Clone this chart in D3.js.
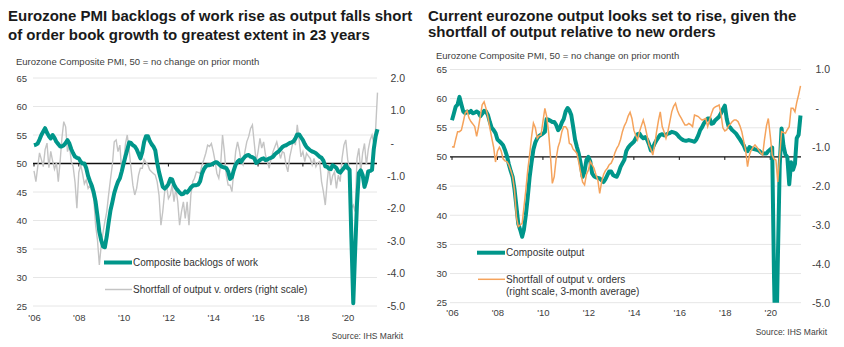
<!DOCTYPE html>
<html>
<head>
<meta charset="utf-8">
<script src="https://cdn.jsdelivr.net/npm/d3@7"></script>
<style>
body { margin: 0; background: #fff; }
svg text { font-family: "Liberation Sans", Arial, sans-serif; }
</style>
</head>
<body>
<div id="chart"></div>
<script>
// monthly series, Jan 2006 - May 2021
// left panel: composite backlogs of work (left scale)
var backlogs = [
    53.2, 53.3, 53.5, 54.2, 55.0, 55.6, 56.2, 55.4, 54.8, 54.4, 55.0, 54.5,
    53.8, 53.4, 53.0, 53.0, 53.2, 53.6, 54.1, 53.5, 52.5, 51.8, 51.2, 51.0,
    50.9, 50.3, 50.0, 50.0, 49.2, 47.8, 46.9, 46.1, 44.9, 43.3, 40.8, 38.0,
    36.5, 35.4, 35.3, 37.2, 39.6, 41.8, 43.2, 44.8, 45.9, 46.8, 47.4, 48.6,
    50.0, 51.3, 52.4, 53.7, 53.6, 53.2, 53.0, 52.5, 51.7, 50.9, 52.0, 53.8,
    54.8, 54.8, 54.0, 53.4, 53.0, 52.3, 50.2, 48.5, 47.2, 45.9, 45.6, 45.9,
    46.4, 47.3, 47.2, 46.3, 45.7, 45.3, 44.9, 44.6, 44.7, 45.1, 44.9, 45.3,
    45.8, 46.1, 46.2, 46.2, 46.3, 46.9, 48.2, 49.0, 49.5, 49.7, 49.7, 49.8,
    50.0, 50.2, 50.2, 49.9, 49.6, 49.4, 49.3, 49.2, 48.6, 47.3, 47.6, 48.8,
    49.8, 50.3, 50.6, 50.3, 50.8, 51.2, 51.4, 51.5, 51.2, 51.1, 50.9, 50.1,
    50.3, 50.6, 50.8, 50.9, 50.6, 50.7, 50.9, 51.0, 51.2, 51.6, 51.9, 52.1,
    52.5, 52.9, 53.1, 53.2, 53.4, 53.6, 53.7, 53.9, 54.4, 55.1, 55.1, 54.6,
    54.1, 53.4, 52.9, 52.6, 52.3, 52.1, 52.0, 51.8, 51.5, 51.2, 51.0, 50.5,
    49.5, 49.4, 49.1, 49.0, 49.7, 49.5, 49.2, 48.6, 48.4, 48.8, 49.2, 49.7,
    49.2, 48.9, 37.0, 25.5, 34.5, 43.0, 48.3, 48.8, 48.0, 45.9, 47.0, 48.6,
    48.7, 48.9, 52.5, 54.8, 56.0
];

// left panel: shortfall of output v. orders, monthly (right scale)
var shortfall = [
    -0.85, -1.18, -0.75, -0.3, -0.5, -0.72, -0.2, 0.0, -0.75, -0.25, -0.55, -0.8,
    -0.6, -1.18, -0.6, 0.15, 0.66, 0.5, -0.26, -0.06, -0.57, -0.72, -1.2, -2.0,
    -0.9, -0.67, -0.93, -1.25, -1.13, -1.39, -1.3, -1.49, -1.7, -2.52, -2.98, -3.74,
    -3.13, -2.72, -2.41, -2.1, -1.59, -1.1, -0.67, 0.04, 0.1, -0.26, -0.06, -0.88,
    -0.57, -0.01, 0.25, -0.21, -0.77, -1.29, -1.59, -1.39, -0.98, -0.77, -0.77, -0.5,
    -0.6, -0.67, -0.82, -0.88, -0.93, -0.98, -1.18, -1.6, -2.52, -2.1, -1.49, -1.29,
    -1.7, -1.59, -1.29, -1.8, -1.39, -1.8, -2.52, -2.1, -1.8, -2.31, -1.8, -2.52,
    -1.59, -1.18, -1.08, -0.88, -0.9, -0.93, -0.67, -0.5, -0.31, -0.06, -0.1, -0.01,
    -0.26, -0.57, -0.93, -1.08, -0.67, 0.25, -0.26, -0.98, -1.29, -1.29, -1.49, -0.88,
    -0.26, 0.04, -0.21, -0.57, -0.67, -0.26, 0.04, 0.2, 0.45, 0.56, -0.01, -0.57,
    -0.26, 0.15, -0.15, 0.04, -0.36, -0.57, -0.77, -0.47, -0.26, -0.11, 0.04, -0.21,
    -0.47, -0.26, -0.3, -0.67, -0.88, -0.42, -0.16, 0.1, -0.06, 0.56, 0.1, -0.42,
    -0.26, -0.57, -0.31, -0.4, -0.47, -0.67, -0.47, -0.72, -0.6, -0.57, -1.18, -1.49,
    -1.9, -1.18, -0.67, -1.29, -1.0, -0.88, -1.39, -0.98, -1.18, -0.47, -0.06, 0.1,
    -0.5, -0.82, -2.0, -1.9, -2.1, -0.47, -0.16, -0.88, -0.3, -0.01, -0.67, -0.2,
    0.1, 0.25, 0.0, 0.45, 1.55
];

// right panel: composite output (left scale)
var output = [
    56.3, 57.5, 58.6, 59.0, 60.3, 59.0, 57.8, 57.5, 57.8, 57.6, 57.9, 57.5,
    57.6, 57.8, 57.6, 57.0, 57.4, 57.9, 57.8, 57.2, 56.0, 55.0, 54.6, 54.1,
    53.0, 52.7, 52.4, 52.0, 51.2, 50.2, 48.8, 47.6, 46.6, 44.5, 41.5, 38.5,
    37.5, 36.3, 37.5, 40.0, 43.0, 46.5, 49.0, 51.3, 52.5, 53.2, 53.6, 53.8,
    54.0, 54.3, 56.5, 56.4, 56.2, 56.0, 56.0, 55.5, 54.6, 55.0, 55.9, 56.5,
    57.8, 58.4, 58.0, 57.2, 55.2, 53.0, 51.7, 50.5, 48.8, 46.6, 47.5, 49.5,
    50.0, 49.2, 47.2, 46.7, 46.5, 46.4, 46.3, 46.0, 45.7, 46.2, 46.9, 47.5,
    47.5, 46.9, 46.7, 46.6, 47.3, 48.3, 48.9, 49.5, 51.0, 51.6, 52.0, 52.3,
    52.6, 53.2, 53.9, 54.0, 53.5, 53.2, 53.4, 53.0, 52.2, 51.1, 51.6, 52.3,
    52.9, 53.4, 53.8, 53.9, 53.7, 53.8, 54.0, 54.1, 54.3, 54.2, 54.1, 53.8,
    53.4, 53.1, 52.9, 52.8, 52.8, 52.9, 52.8, 52.7, 52.6, 53.0, 53.7, 54.6,
    55.1, 55.8, 56.2, 56.6, 56.6, 55.7, 55.8, 56.3, 56.6, 56.9, 57.5, 58.2,
    58.8, 56.5, 55.3, 55.0, 54.6, 54.3, 54.0, 53.5, 53.0, 52.5, 52.0, 51.2,
    51.0, 51.7, 51.5, 51.4, 51.3, 51.2, 51.1, 50.8, 50.6, 50.6, 50.6, 51.0,
    51.3, 51.6, 29.7, 13.6, 31.9, 48.5, 54.9, 51.9, 50.4, 50.0, 45.3, 49.1,
    47.8, 48.8, 53.2, 53.8, 57.1
];

// right panel: shortfall of output v. orders, 3-month average (right scale)
var shortfall3m = [
    -0.99, -1.0, -0.8, -0.6, -0.6, -0.56, -0.35, -0.12, -0.06, -0.25, -0.34, -0.4,
    -0.47, -0.72, -0.5, -0.2, 0.09, 0.17, 0.0, -0.22, -0.5, -0.75, -1.0, -1.38,
    -1.1, -1.0, -1.1, -1.3, -1.35, -1.37, -1.45, -1.59, -1.75, -2.1, -2.8, -3.04,
    -3.0, -2.96, -2.55, -2.1, -1.6, -1.2, -0.75, -0.38, -0.5, -0.77, -0.7, -0.69,
    -0.34, 0.0, -0.2, -0.6, -1.2, -1.93, -1.76, -1.3, -1.0, -0.85, -0.6, -0.47,
    -0.47, -0.55, -0.9, -0.93, -1.05, -1.1, -1.16, -1.4, -1.67, -1.9, -1.97, -1.7,
    -1.59, -1.37, -1.45, -1.54, -1.7, -1.85, -2.19, -1.89, -1.7, -1.6, -1.54, -1.45,
    -1.41, -1.3, -1.15, -1.03, -0.95, -0.8, -0.6, -0.45, -0.35, -0.2, -0.1, -0.26,
    -0.56, -0.7, -0.81, -0.6, -0.45, -0.3, -0.47, -0.7, -0.94, -1.05, -1.2, -0.94,
    -0.6, -0.3, -0.09, -0.47, -0.6, -0.77, -0.6, -0.35, -0.09, 0.05, 0.13, -0.05,
    -0.17, -0.25, -0.34, -0.43, -0.43, -0.39, -0.42, -0.47, -0.17, -0.19, -0.21, -0.26,
    -0.3, -0.28, -0.26, -0.47, -0.3, -0.13, 0.0, 0.04, 0.06, 0.09, -0.15, -0.5,
    -0.58, -0.55, -0.45, -0.4, -0.34, -0.3, -0.3, -0.34, -0.45, -0.6, -0.85, -1.07,
    -1.5, -1.2, -1.08, -1.0, -0.94, -1.0, -1.07, -1.15, -1.2, -0.8, -0.45, -0.26,
    -0.7, -1.2, -1.3, -1.33, -1.89, -1.2, -0.6, -0.62, -0.64, -0.55, -0.47, 0.0,
    0.0, -0.09, 0.15, 0.35, 0.58
];

var months = d3.timeMonth.range(new Date(2006, 0, 1), new Date(2021, 5, 1));
var yearTicks = [2006, 2008, 2010, 2012, 2014, 2016, 2018, 2020];
var leftTicks = [25, 30, 35, 40, 45, 50, 55, 60, 65];
var rightTicksA = [2, 1, 0, -1, -2, -3, -4, -5];
var rightTicksB = [1, 0, -1, -2, -3, -4, -5];
var subtitle = "Eurozone Composite PMI, 50 = no change on prior month";

var teal = "#00968a";

var svg = d3.select("#chart")
    .append("svg")
    .attr("width", 844)
    .attr("height", 347);

function drawPanel(p) {
    var x = d3.scaleTime()
        .domain([months[0], months[months.length - 1]])
        .range([p.x0, p.x1]);
    var yL = d3.scaleLinear().domain([25, 65]).range([p.yB, p.yT]);
    var yR = d3.scaleLinear().domain([-5, p.rMax]).range([p.yB, p.yT]);

    // titles
    p.title.forEach(function (t, i) {
        svg.append("text")
            .attr("x", p.tx)
            .attr("y", p.ty[i])
            .attr("font-size", 15)
            .attr("font-weight", "bold")
            .attr("fill", "#1a1a1a")
            .text(t);
    });
    svg.append("text")
        .attr("x", p.sx)
        .attr("y", p.sy)
        .attr("font-size", 9.5)
        .attr("fill", "#404040")
        .text(subtitle);

    // gridlines
    svg.append("g").selectAll("line")
        .data(leftTicks)
        .enter().append("line")
        .attr("x1", p.gx0)
        .attr("x2", p.gx1)
        .attr("y1", function (d) { return yL(d); })
        .attr("y2", function (d) { return yL(d); })
        .style("stroke", "#e6e6e6")
        .style("stroke-width", 1);

    // left axis
    var axL = svg.append("g")
        .attr("transform", "translate(" + p.lx + ",0)")
        .call(d3.axisLeft(yL).tickValues(leftTicks).tickSize(0).tickPadding(0));
    axL.select(".domain").remove();
    axL.selectAll("text").attr("font-size", 9.5).attr("fill", "#404040");

    // right axis
    var axR = svg.append("g")
        .attr("transform", "translate(" + p.rx + ",0)")
        .call(d3.axisRight(yR).tickValues(p.rTicks).tickSize(0).tickPadding(0)
            .tickFormat(function (v) { return v === 0 ? "-" : v.toFixed(1); }));
    axR.select(".domain").remove();
    axR.selectAll("text")
        .attr("text-anchor", "end")
        .attr("font-size", 10.5)
        .attr("fill", "#404040")
        .attr("x", function (v) { return v === 0 ? -11 : 0; });

    // x axis labels
    var axX = svg.append("g")
        .attr("transform", "translate(0," + p.xy + ")")
        .call(d3.axisBottom(x)
            .tickValues(yearTicks.map(function (y) { return new Date(y, 0, 1); }))
            .tickSize(0).tickPadding(0)
            .tickFormat(d3.timeFormat("'%y")));
    axX.select(".domain").remove();
    axX.selectAll("text").attr("font-size", 9.5).attr("fill", "#404040");

    // 50 line with small ticks
    svg.append("line")
        .attr("x1", p.gx0)
        .attr("x2", p.gx1)
        .attr("y1", yL(50))
        .attr("y2", yL(50))
        .style("stroke", "#111")
        .style("stroke-width", 1.3);
    svg.append("g").selectAll("line")
        .data(yearTicks)
        .enter().append("line")
        .attr("x1", function (d) { return x(new Date(d, 0, 1)); })
        .attr("x2", function (d) { return x(new Date(d, 0, 1)); })
        .attr("y1", yL(50))
        .attr("y2", yL(50) + 3)
        .style("stroke", "#111")
        .style("stroke-width", 1);

    // clip
    svg.append("clipPath")
        .attr("id", p.id + "-clip")
        .append("rect")
        .attr("x", p.gx0 - 5)
        .attr("y", p.yT - 20)
        .attr("width", p.gx1 - p.gx0 + 10)
        .attr("height", p.yB - p.yT + 20);
    var plot = svg.append("g").attr("clip-path", "url(#" + p.id + "-clip)");

    var lineL = d3.line()
        .x(function (d, i) { return x(months[i]); })
        .y(function (d) { return yL(d); });
    var lineR = d3.line()
        .x(function (d, i) { return x(months[i]); })
        .y(function (d) { return yR(d); });

    if (p.rightFirst) {
        plot.append("path").datum(p.rSeries).attr("d", lineR)
            .style("fill", "none").style("stroke", p.rColor).style("stroke-width", p.rWidth);
        plot.append("path").datum(p.lSeries).attr("d", lineL)
            .style("fill", "none").style("stroke", teal).style("stroke-width", 4)
            .style("stroke-linejoin", "round");
    } else {
        plot.append("path").datum(p.lSeries).attr("d", lineL)
            .style("fill", "none").style("stroke", teal).style("stroke-width", 4)
            .style("stroke-linejoin", "round");
        plot.append("path").datum(p.rSeries).attr("d", lineR)
            .style("fill", "none").style("stroke", p.rColor).style("stroke-width", p.rWidth);
    }

    // legend
    svg.append("line")
        .attr("x1", p.lg.x)
        .attr("x2", p.lg.x + 28)
        .attr("y1", p.lg.y1)
        .attr("y2", p.lg.y1)
        .style("stroke", teal)
        .style("stroke-width", 4);
    svg.append("text")
        .attr("x", p.lg.x + 29)
        .attr("y", p.lg.y1 + 3.5)
        .attr("font-size", 10)
        .attr("fill", "#333")
        .text(p.lg.t1);
    svg.append("line")
        .attr("x1", p.lg.x + 1)
        .attr("x2", p.lg.x + 28)
        .attr("y1", p.lg.y2)
        .attr("y2", p.lg.y2)
        .style("stroke", p.rColor)
        .style("stroke-width", 1.5);
    p.lg.t2.forEach(function (t, i) {
        svg.append("text")
            .attr("x", p.lg.x + 29)
            .attr("y", p.lg.y2 + 3.5 + i * 12.5)
            .attr("font-size", 10)
            .attr("fill", "#333")
            .text(t);
    });

    // source
    svg.append("text")
        .attr("x", p.srcX)
        .attr("y", p.srcY)
        .attr("text-anchor", "end")
        .attr("font-size", 8.5)
        .attr("fill", "#404040")
        .text("Source: IHS Markit");
}

drawPanel({
    id: "left",
    title: ["Eurozone PMI backlogs of work rise as output falls short",
            "of order book growth to greatest extent in 23 years"],
    tx: 8, ty: [21, 39.5],
    sx: 16, sy: 65,
    x0: 34, x1: 377.5,
    yT: 78, yB: 306,
    gx0: 33, gx1: 377,
    lx: 27, rx: 405, rMax: 2, rTicks: rightTicksA,
    xy: 314,
    lSeries: backlogs, rSeries: shortfall,
    rColor: "#c4c4c4", rWidth: 1.4, rightFirst: true,
    lg: { x: 104, y1: 262.5, y2: 289.5,
          t1: "Composite backlogs of work",
          t2: ["Shortfall of output v. orders (right scale)"] },
    srcX: 403, srcY: 339
});

drawPanel({
    id: "right",
    title: ["Current eurozone output looks set to rise, given the",
            "shortfall of output relative to new orders"],
    tx: 428, ty: [21, 36.5],
    sx: 436, sy: 58.5,
    x0: 452, x1: 800.5,
    yT: 69.5, yB: 302.7,
    gx0: 450, gx1: 801,
    lx: 447, rx: 830, rMax: 1, rTicks: rightTicksB,
    xy: 309,
    lSeries: output, rSeries: shortfall3m,
    rColor: "#f5a35c", rWidth: 1.5, rightFirst: false,
    lg: { x: 477, y1: 252.7, y2: 279.3,
          t1: "Composite output",
          t2: ["Shortfall of output v. orders", "(right scale, 3-month average)"] },
    srcX: 827, srcY: 335
});
</script>
</body>
</html>
